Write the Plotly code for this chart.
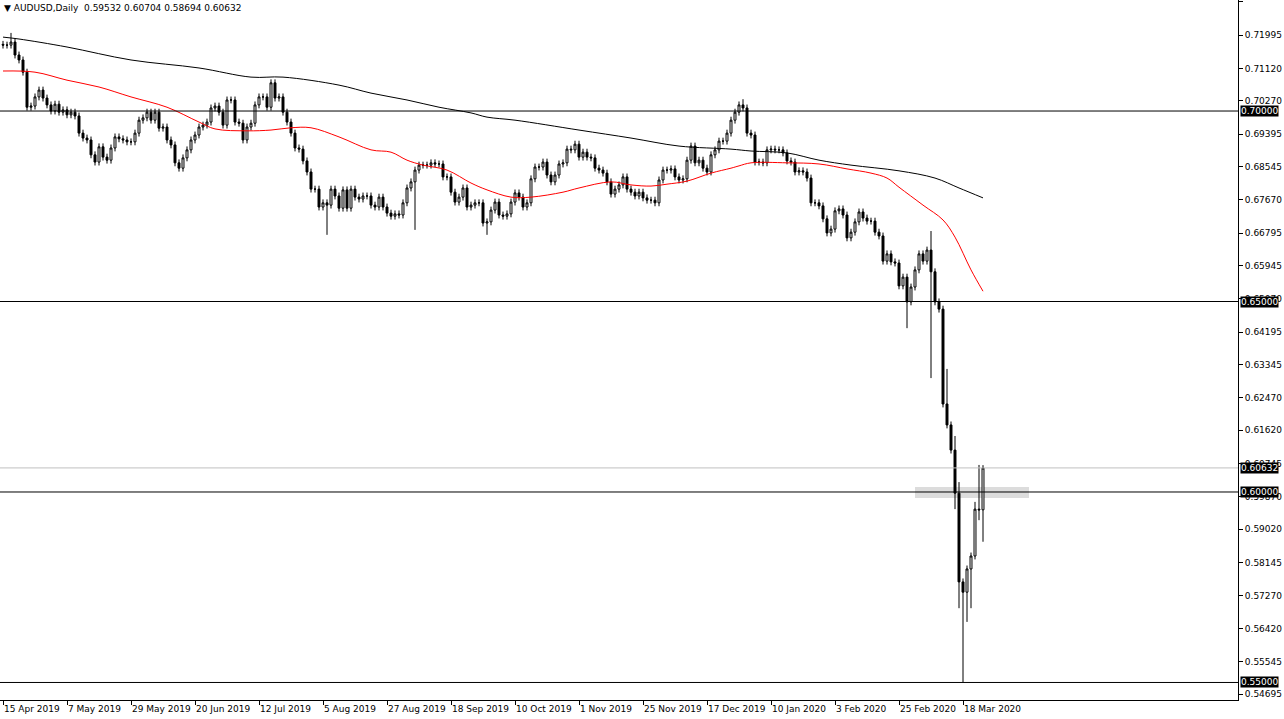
import plotly.graph_objects as go

# daily closes AUDUSD, 15 Apr 2019 .. 26 Mar 2020
closes = [
    0.7173, 0.7173, 0.7181, 0.7147, 0.7134, 0.7102, 0.7010, 0.7013, 0.7037, 0.7055, 0.7034, 0.7016, 0.7000, 0.7018, 0.6997, 0.7003,
    0.6990, 0.6997, 0.6987, 0.6942, 0.6929, 0.6924, 0.6885, 0.6866, 0.6906, 0.6879, 0.6871, 0.6903, 0.6932, 0.6927, 0.6924, 0.6919,
    0.6919, 0.6942, 0.6976, 0.6982, 0.6997, 0.6976, 0.6997, 0.6955, 0.6958, 0.6924, 0.6911, 0.6864, 0.6850, 0.6877, 0.6898, 0.6924,
    0.6937, 0.6958, 0.6963, 0.6971, 0.7008, 0.7013, 0.6997, 0.6963, 0.7029, 0.7029, 0.6971, 0.6968, 0.6924, 0.6958, 0.6968, 0.7016,
    0.7037, 0.7037, 0.7010, 0.7074, 0.7034, 0.7037, 0.6997, 0.6971, 0.6942, 0.6903, 0.6900, 0.6869, 0.6840, 0.6795, 0.6795, 0.6748,
    0.6759, 0.6753, 0.6795, 0.6777, 0.6745, 0.6793, 0.6745, 0.6795, 0.6774, 0.6769, 0.6777, 0.6777, 0.6753, 0.6748, 0.6774, 0.6748,
    0.6732, 0.6724, 0.6730, 0.6727, 0.6759, 0.6798, 0.6814, 0.6845, 0.6858, 0.6858, 0.6858, 0.6864, 0.6861, 0.6861, 0.6827, 0.6827,
    0.6787, 0.6761, 0.6774, 0.6798, 0.6748, 0.6753, 0.6759, 0.6759, 0.6706, 0.6709, 0.6740, 0.6761, 0.6727, 0.6724, 0.6730, 0.6761,
    0.6785, 0.6774, 0.6748, 0.6759, 0.6822, 0.6853, 0.6853, 0.6866, 0.6832, 0.6814, 0.6832, 0.6861, 0.6864, 0.6900, 0.6898, 0.6913,
    0.6879, 0.6892, 0.6879, 0.6877, 0.6850, 0.6845, 0.6837, 0.6814, 0.6782, 0.6795, 0.6806, 0.6827, 0.6795, 0.6787, 0.6777, 0.6787,
    0.6772, 0.6766, 0.6766, 0.6759, 0.6819, 0.6845, 0.6845, 0.6848, 0.6827, 0.6819, 0.6822, 0.6871, 0.6908, 0.6864, 0.6871, 0.6850,
    0.6840, 0.6885, 0.6898, 0.6921, 0.6921, 0.6942, 0.6976, 0.6997, 0.7016, 0.7008, 0.6942, 0.6937, 0.6866, 0.6866, 0.6864, 0.6898,
    0.6900, 0.6898, 0.6898, 0.6890, 0.6869, 0.6866, 0.6840, 0.6843, 0.6840, 0.6824, 0.6759, 0.6759, 0.6751, 0.6717, 0.6680, 0.6690,
    0.6738, 0.6743, 0.6727, 0.6667, 0.6682, 0.6709, 0.6735, 0.6719, 0.6711, 0.6711, 0.6682, 0.6672, 0.6606, 0.6625, 0.6604, 0.6601,
    0.6541, 0.6564, 0.6499, 0.6538, 0.6583, 0.6625, 0.6606, 0.6635, 0.6578, 0.6499, 0.6480, 0.6231, 0.6176, 0.6110, 0.5997, 0.5764,
    0.5737, 0.5798, 0.5832, 0.5955, 0.5953, 0.6063,
]
first_open = 0.7175

# wicks that stick out further than usual
high_marks = {2: 0.7205, 185: 0.7031, 232: 0.6685, 236: 0.6323, 238: 0.6147, 239: 0.6026,
              243: 0.5974, 244: 0.6071, 245: 0.60704}
low_marks = {81: 0.6675, 103: 0.6688, 121: 0.6675, 226: 0.6430, 232: 0.6299, 238: 0.5955,
             239: 0.5695, 240: 0.5501, 241: 0.5659, 242: 0.5695, 244: 0.5926, 245: 0.58694}

# moving averages (bar index, price)
ma50_idx = [0, 8, 16, 24, 32, 41, 49, 53, 61, 67, 72, 77, 84, 92, 97, 101, 105, 111, 117, 121, 127, 132,
            140, 144, 152, 157, 162, 166, 171, 177, 182, 184, 187, 196, 204, 211, 217, 221, 224, 230,
            235, 238, 242, 245]
ma50_val = [0.7105, 0.7102, 0.7081, 0.7063, 0.7037, 0.7010, 0.6971, 0.6953, 0.6948, 0.6950, 0.6956,
            0.6956, 0.6932, 0.6898, 0.6892, 0.6871, 0.6858, 0.6845, 0.6811, 0.6793, 0.6774, 0.6774,
            0.6787, 0.6798, 0.6814, 0.6806, 0.6803, 0.6808, 0.6816, 0.6837, 0.6850, 0.6856, 0.6864,
            0.6864, 0.6861, 0.6848, 0.6837, 0.6824, 0.6800, 0.6753, 0.6714, 0.6669, 0.6583, 0.6527]
ma200_idx = [0, 4, 16, 32, 49, 62, 70, 84, 92, 101, 109, 117, 121, 128, 144, 157, 169, 182, 187, 196,
             204, 212, 224, 233, 239, 245]
ma200_val = [0.7194, 0.7189, 0.7168, 0.7134, 0.7113, 0.7089, 0.7089, 0.7068, 0.7047, 0.7029, 0.7010,
             0.6995, 0.6984, 0.6976, 0.6950, 0.6929, 0.6908, 0.6900, 0.6895, 0.6890, 0.6871, 0.6858,
             0.6843, 0.6824, 0.6798, 0.6772]

date_labels = ["15 Apr 2019", "7 May 2019", "29 May 2019", "20 Jun 2019", "12 Jul 2019", "5 Aug 2019",
               "27 Aug 2019", "18 Sep 2019", "10 Oct 2019", "1 Nov 2019", "25 Nov 2019", "17 Dec 2019",
               "10 Jan 2020", "3 Feb 2020", "25 Feb 2020", "18 Mar 2020"]
price_ticks = [0.72870, 0.71995, 0.71120, 0.70270, 0.69395, 0.68545, 0.67670, 0.66795, 0.65945,
               0.65070, 0.64195, 0.63345, 0.62470, 0.61620, 0.60745, 0.59870, 0.59020, 0.58145,
               0.57270, 0.56420, 0.55545, 0.54695]
levels = [0.70000, 0.65000, 0.60000, 0.55000]
last_price = 0.60632

opens = [first_open] + closes[:-1]
opens[-1] = 0.59532
highs = []
lows = []
for i in range(len(closes)):
    highs.append(high_marks.get(i, max(opens[i], closes[i]) + 0.0009))
    lows.append(low_marks.get(i, min(opens[i], closes[i]) - 0.0009))
bars = list(range(len(closes)))

fig = go.Figure()
fig.add_trace(go.Scatter(x=ma200_idx, y=ma200_val, mode="lines", line=dict(color="black", width=1),
                         line_shape="spline", hoverinfo="skip"))
fig.add_trace(go.Scatter(x=ma50_idx, y=ma50_val, mode="lines", line=dict(color="red", width=1),
                         line_shape="spline", hoverinfo="skip"))
fig.add_trace(go.Candlestick(
    x=bars, open=opens, high=highs, low=lows, close=closes, whiskerwidth=0,
    increasing=dict(line=dict(color="black", width=1), fillcolor="white"),
    decreasing=dict(line=dict(color="black", width=1), fillcolor="black")))

for lv in levels:
    fig.add_hline(y=lv, line=dict(color="black", width=1))
fig.add_hline(y=last_price, line=dict(color="#c0c0c0", width=1))
fig.add_shape(type="rect", x0=228, x1=256.5, y0=0.5984, y1=0.6013, fillcolor="#dcdcdc",
              line=dict(width=0), layer="below")

for lv in levels + [last_price]:
    fig.add_annotation(x=1, xref="paper", xanchor="left", y=lv, text="%.5f" % lv, showarrow=False,
                       bgcolor="black", font=dict(color="white", size=9), borderpad=0, xshift=2)

fig.add_annotation(x=0, xref="paper", y=1, yref="paper", xanchor="left", yanchor="top",
                   text="▼ AUDUSD,Daily  0.59532 0.60704 0.58694 0.60632", showarrow=False,
                   font=dict(size=9, color="black"), xshift=2, yshift=-1)

fig.update_layout(
    width=1284, height=719, margin=dict(l=0, r=46, t=0, b=19, autoexpand=False),
    paper_bgcolor="white", plot_bgcolor="white", showlegend=False,
    font=dict(family="DejaVu Sans", size=9, color="black"),
    xaxis=dict(range=[-0.75, 308.75], tickvals=[16 * k for k in range(len(date_labels))],
               ticktext=date_labels, ticks="outside", ticklen=4, tickcolor="black", tickangle=0,
               ticklabelposition="outside right", showgrid=False, zeroline=False, automargin=False,
               rangeslider=dict(visible=False), showline=True, linecolor="black"),
    yaxis=dict(range=[0.5454, 0.72914], side="right", tickvals=price_ticks, automargin=False,
               ticktext=["%.5f" % t for t in price_ticks], ticks="outside", ticklen=4,
               tickcolor="black", showgrid=False, zeroline=False, showline=True, linecolor="black"),
)

fig.write_html("out.html", config={"displayModeBar": False},
               post_script="document.body.style.margin='0';")
